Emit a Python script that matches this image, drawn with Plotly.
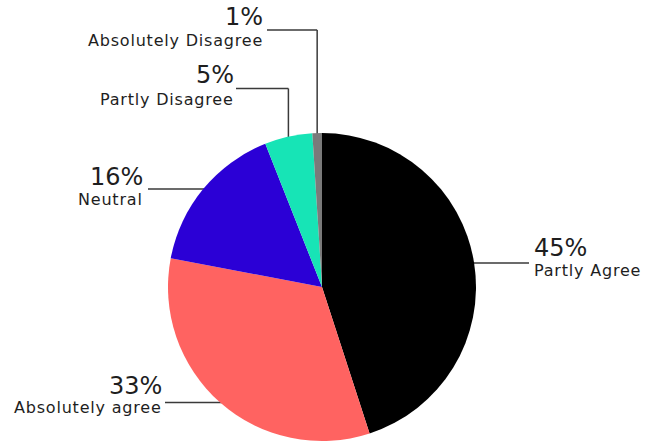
import math
import plotly.graph_objects as go

# Survey responses, clockwise from 12 o'clock
categories = ["Partly Agree", "Absolutely agree", "Neutral", "Partly Disagree", "Absolutely Disagree"]
shares = [45, 33, 16, 5, 1]
pct_labels = ["45%", "33%", "16%", "5%", "1%"]

colors = ["#000000", "#FF6361", "#2B00D6", "#17E4B6", "#7A7A7A"]

W, H = 646, 443
CX, CY, R = 322, 287, 154          # pie centre and radius in pixels
FONT = "DejaVu Sans"
TXT = "#1e1e1e"
LINE = "#3a3a3a"

# Label placement: side, where the leader ends next to the text, text anchor,
# and for the two small top slices an elbow height for the leader.
label_layout = [
    dict(kind="h", side="right", x_out=529, tx=532, pct_y=248.4, lab_y=270.2),
    dict(kind="h", side="left", x_out=165, tx=164, pct_y=385.5, lab_y=407.5),
    dict(kind="h", side="left", x_out=148, tx=145, pct_y=176.7, lab_y=199.5, y=189),
    dict(kind="elbow", side="left", x_out=236, tx=236, pct_y=75.0, lab_y=99.5, y=88.5),
    dict(kind="elbow", side="left", x_out=267, tx=265, pct_y=16.7, lab_y=40.2, y=30),
]


def px(x):
    return x / W


def py(y):
    return 1 - y / H


def spaced(s):
    return f'<span style="letter-spacing:0.8px">{s}</span>'


fig = go.Figure(
    go.Pie(
        labels=categories,
        values=shares,
        sort=False,
        direction="clockwise",
        rotation=0,
        marker=dict(colors=colors, line=dict(width=0)),
        textinfo="none",
        hoverinfo="label+percent",
        domain=dict(x=[px(CX - R), px(CX + R)], y=[py(CY + R), py(CY - R)]),
    )
)

shapes = []
annotations = []
total = sum(shares)
cum = 0
for cat, val, pct, lay in zip(categories, shares, pct_labels, label_layout):
    mid = (cum + val / 2) / total * 2 * math.pi
    cum += val
    ex = CX + R * math.sin(mid)
    ey = CY - R * math.cos(mid)
    line = dict(type="line", xref="paper", yref="paper", layer="below",
                line=dict(color=LINE, width=1.5))
    if lay["kind"] == "h":
        y = lay.get("y", ey)
        dx = math.sqrt(max(R * R - (y - CY) ** 2, 0))
        x_edge = CX + dx if lay["side"] == "right" else CX - dx
        x_edge += -3 if lay["side"] == "right" else 3
        shapes.append({**line, "x0": px(lay["x_out"]), "y0": py(y), "x1": px(x_edge), "y1": py(y)})
    else:
        y = lay["y"]
        y_edge = CY - math.sqrt(R * R - (ex - CX) ** 2) + 2
        shapes.append({**line, "x0": px(lay["x_out"]), "y0": py(y), "x1": px(ex), "y1": py(y)})
        shapes.append({**line, "x0": px(ex), "y0": py(y), "x1": px(ex), "y1": py(y_edge)})

    xanchor = "left" if lay["side"] == "right" else "right"
    annotations.append(dict(
        text=pct, x=px(lay["tx"]), y=py(lay["pct_y"]), xref="paper", yref="paper",
        xanchor=xanchor, yanchor="middle", showarrow=False,
        font=dict(family=FONT, size=24, color=TXT),
    ))
    annotations.append(dict(
        text=spaced(cat), x=px(lay["tx"]), y=py(lay["lab_y"]), xref="paper", yref="paper",
        xanchor=xanchor, yanchor="middle", showarrow=False,
        font=dict(family=FONT, size=16, color=TXT),
    ))

fig.update_layout(
    width=W,
    height=H,
    margin=dict(l=0, r=0, t=0, b=0),
    paper_bgcolor="white",
    plot_bgcolor="white",
    showlegend=False,
    shapes=shapes,
    annotations=annotations,
)

fig.write_html("out.html")
